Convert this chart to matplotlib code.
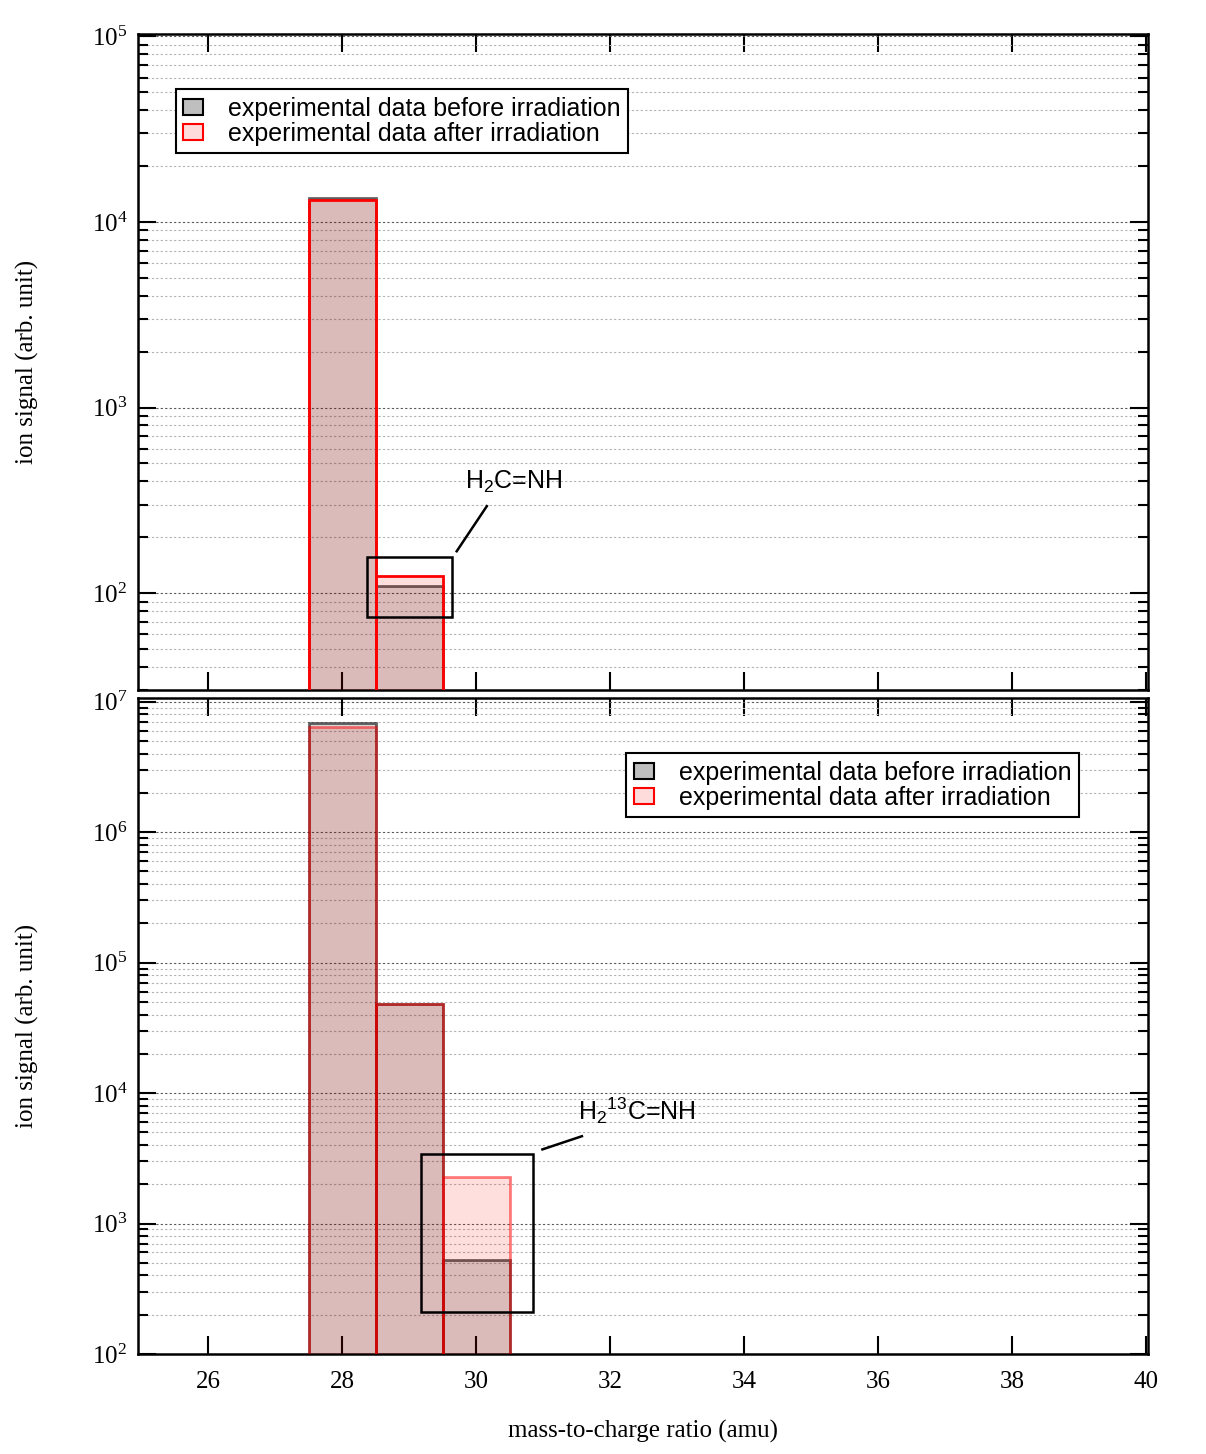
import numpy as np
import matplotlib
matplotlib.use('Agg')
import matplotlib.pyplot as plt
from matplotlib.ticker import LogLocator, LogFormatterMathtext, NullFormatter, MultipleLocator
from matplotlib.patches import Rectangle

plt.rcParams['font.family'] = ['Liberation Serif', 'DejaVu Serif']
plt.rcParams['mathtext.fontset'] = 'custom'
plt.rcParams['mathtext.rm'] = 'Liberation Serif'
plt.rcParams['mathtext.sf'] = 'Liberation Sans'

# data
top_mass = [28, 29]
top_before = [13500, 108]
top_after = [13100, 122]

bot_mass = [28, 29, 30]
bot_before = [6.9e6, 4.8e4, 520]
bot_after = [6.4e6, 4.8e4, 2260]

legend_labels = ['experimental data before irradiation',
                 'experimental data after irradiation']

sans = {'family': 'Liberation Sans', 'size': 18}

fig = plt.figure(figsize=(12.06, 14.54), dpi=100)
ax1 = fig.add_axes([0.1147, 0.5254, 0.8375, 0.4512])
ax2 = fig.add_axes([0.1147, 0.0688, 0.8375, 0.4512])


def style(ax, ylim, xlabels):
    ax.set_yscale('log')
    ax.set_xlim(24.955, 40.04)
    ax.set_ylim(*ylim)
    ax.xaxis.set_major_locator(MultipleLocator(2))
    ax.yaxis.set_major_locator(LogLocator(base=10))
    ax.yaxis.set_minor_locator(LogLocator(base=10, subs=np.arange(2, 10)))
    ax.yaxis.set_major_formatter(LogFormatterMathtext())
    ax.yaxis.set_minor_formatter(NullFormatter())
    ax.tick_params(which='major', direction='in', length=13, width=1.5,
                   top=True, right=True, labelsize=18)
    ax.tick_params(axis='x', which='major', pad=12)
    ax.tick_params(axis='y', which='major', pad=8)
    ax.tick_params(which='minor', direction='in', length=7, width=1.5,
                   top=True, right=True)
    if not xlabels:
        ax.tick_params(axis='x', labelbottom=False)
    for s in ax.spines.values():
        s.set_linewidth(1.8)
    ax.grid(axis='y', which='major', ls=(0, (2, 2)), color='0.35', lw=0.8)
    ax.grid(axis='y', which='minor', ls=(0, (2, 2)), color='0.7', lw=0.8)
    ax.set_axisbelow(True)
    ax.set_ylabel('ion signal (arb. unit)', fontsize=18)
    ax.yaxis.set_label_coords(-0.098, 0.5)


def bars(ax, mass, before, after, red_alpha):
    ax.bar(mass, before, width=1, bottom=1, facecolor=(0, 0, 0, 0.16),
           edgecolor=(0, 0, 0, 0.6), lw=2, label=legend_labels[0], zorder=2)
    ax.bar(mass, after, width=1, bottom=1, facecolor=(1, 0, 0, 0.13),
           edgecolor=(1, 0, 0, red_alpha), lw=2, label=legend_labels[1], zorder=3)


def legend(ax, x, y):
    h = [Rectangle((0, 0), 1, 1, facecolor='0.75', edgecolor='black', lw=1.5),
         Rectangle((0, 0), 1, 1, facecolor='#ffdcdc', edgecolor='red', lw=1.5)]
    lg = ax.legend(h, legend_labels, loc='upper left', bbox_to_anchor=(x, y),
                   borderaxespad=0, prop=sans, fancybox=False, framealpha=1,
                   edgecolor='black', handlelength=0.8, handleheight=0.6,
                   labelspacing=0.05, handletextpad=1.0, borderpad=0.3)
    lg.get_frame().set_linewidth(1.5)
    lg.set_zorder(5)


# top panel
style(ax1, (30, 1.03e5), False)
bars(ax1, top_mass, top_before, top_after, 1.0)
legend(ax1, 0.037, 0.916)
ax1.add_patch(Rectangle((28.37, 74), 1.27, 82, fill=False, ec='black', lw=1.8, zorder=4))
ax1.plot([29.71, 30.16], [168, 294], color='black', lw=1.8, zorder=4)
ax1.text(29.84, 395, r'H$_{\mathsf{2}}$C=NH', fontdict=sans, va='center')

# bottom panel
style(ax2, (1e2, 1.07e7), True)
bars(ax2, bot_mass, bot_before, bot_after, 0.5)
legend(ax2, 0.483, 0.916)
ax2.add_patch(Rectangle((29.18, 210), 1.67, 3190, fill=False, ec='black', lw=1.8, zorder=4))
ax2.plot([30.99, 31.58], [3700, 4670], color='black', lw=1.8, zorder=4)
ax2.text(31.52, 7300, r'H$_{\mathsf{2}}$$^{\mathsf{13}}$C=NH', fontdict=sans, va='center')
ax2.set_xlabel('mass-to-charge ratio (amu)', fontsize=18)
ax2.xaxis.set_label_coords(0.5, -0.1)

fig.savefig('out.png', dpi=100)
